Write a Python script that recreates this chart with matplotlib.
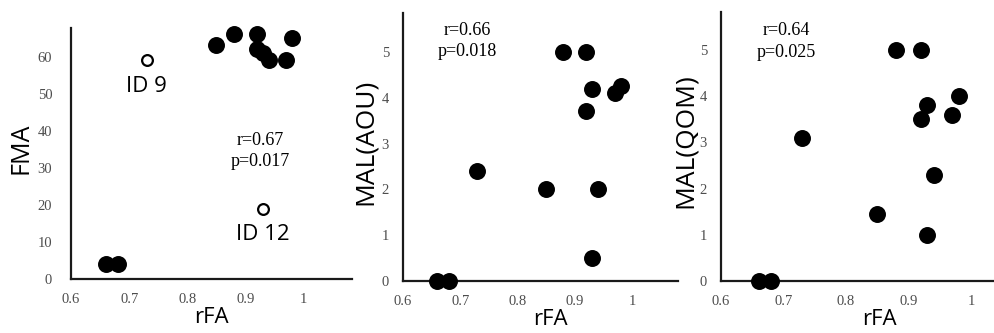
import matplotlib
matplotlib.use("Agg")
import matplotlib.pyplot as plt

# rFA per subject
rfa_fma = [0.85, 0.88, 0.92, 0.92, 0.93, 0.94, 0.97, 0.98, 0.66, 0.68]
fma = [63, 66, 66, 62, 61, 59, 59, 65, 4, 4]
# outliers (open circles)
rfa_out = [0.73, 0.93]
fma_out = [59, 19]
out_labels = ["ID 9", "ID 12"]

rfa_all = [0.66, 0.68, 0.73, 0.85, 0.88, 0.92, 0.93, 0.92, 0.97, 0.98, 0.94, 0.93]
mal_aou = [0, 0, 2.4, 2.0, 5.0, 5.0, 4.2, 3.7, 4.1, 4.25, 2.0, 0.5]
mal_qom = [0, 0, 3.1, 1.45, 5.0, 5.0, 3.8, 3.5, 3.6, 4.0, 2.3, 1.0]

xticks = [0.6, 0.7, 0.8, 0.9, 1.0]
xtick_labels = ["0.6", "0.7", "0.8", "0.9", "1"]

stats = ["r=0.67\np=0.017", "r=0.66\np=0.018", "r=0.64\np=0.025"]

W, H = 995, 333
fig = plt.figure(figsize=(W / 100, H / 100), dpi=100)


def make_ax(left, top, right, bottom):
    return fig.add_axes([left / W, 1 - bottom / H, (right - left) / W, (bottom - top) / H])


def style(ax, xlim, ylim, yticks, ylabel, ylab_x, ylab_size, xlab_x, xlab_y, ypad):
    ax.set_xlim(*xlim)
    ax.set_ylim(*ylim)
    ax.set_xticks(xticks)
    ax.set_xticklabels(xtick_labels)
    ax.set_yticks(yticks)
    ax.set_yticklabels([str(t) for t in yticks])
    for s in ["top", "right"]:
        ax.spines[s].set_visible(False)
    for s in ["left", "bottom"]:
        ax.spines[s].set_linewidth(1.6)
        ax.spines[s].set_color("#1a1a1a")
    ax.tick_params(length=0, labelsize=10.5, labelcolor="#4d4d4d")
    ax.tick_params(axis="x", pad=10)
    ax.tick_params(axis="y", pad=ypad)
    for lab in ax.get_xticklabels() + ax.get_yticklabels():
        lab.set_family("Liberation Serif")
    ax.set_ylabel(ylabel, fontsize=ylab_size, family="Open Sans")
    ax.yaxis.set_label_coords(ylab_x, 0.52)
    ax.set_xlabel("rFA", fontsize=16, family="Open Sans")
    ax.xaxis.set_label_coords(xlab_x, xlab_y)


# panel 1: FMA
ax1 = make_ax(71, 28, 352, 279)
ax1.scatter(rfa_fma, fma, s=125, color="black", zorder=3, clip_on=False)
ax1.scatter(rfa_out, fma_out, s=60, facecolor="white", edgecolor="black",
            linewidth=1.6, zorder=3, clip_on=False)
for x, y, t in zip(rfa_out, fma_out, out_labels):
    ax1.text(x, y - 7, t, ha="center", va="center", fontsize=16, family="Open Sans")
ax1.text(0.926, 34.5, stats[0], ha="center", va="center", fontsize=13,
         family="Liberation Serif", linespacing=1.35)
style(ax1, (0.6, 1.083), (0, 67.7), [0, 10, 20, 30, 40, 50, 60], "FMA",
      -0.135, 18, 0.5, -0.112, 13.5)

# panel 2: MAL(AOU)
ax2 = make_ax(403, 13, 678, 281)
ax2.scatter(rfa_all, mal_aou, s=125, color="black", zorder=3, clip_on=False)
ax2.text(0.712, 5.24, stats[1], ha="center", va="center", fontsize=13,
         family="Liberation Serif", linespacing=1.35)
style(ax2, (0.6, 1.08), (0, 5.85), [0, 1, 2, 3, 4, 5], "MAL(AOU)",
      -0.09, 19, 0.535, -0.105, 10)

# panel 3: MAL(QOM)
ax3 = make_ax(721, 12, 995, 281)
ax3.scatter(rfa_all, mal_qom, s=125, color="black", zorder=3, clip_on=False)
ax3.text(0.705, 5.18, stats[2], ha="center", va="center", fontsize=13,
         family="Liberation Serif", linespacing=1.35)
style(ax3, (0.6, 1.038), (0, 5.82), [0, 1, 2, 3, 4, 5], "MAL(QOM)",
      -0.084, 19, 0.58, -0.105, 10)

fig.savefig("out.png", dpi=100)
